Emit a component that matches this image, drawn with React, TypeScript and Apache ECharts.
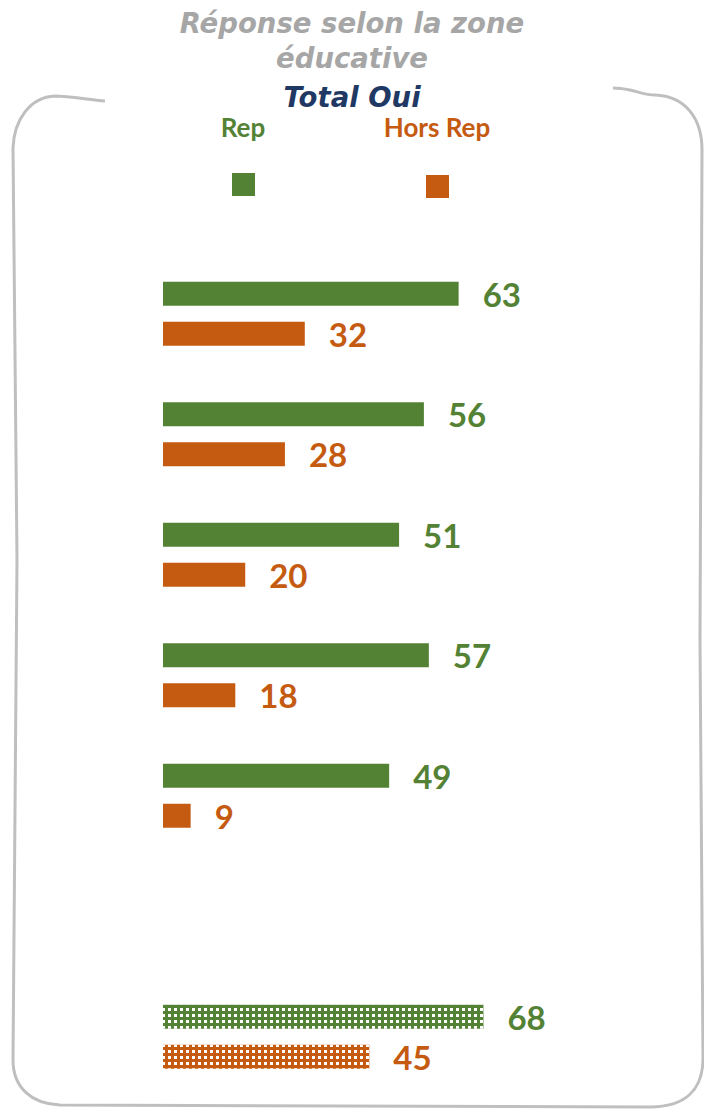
import React, { useEffect, useRef } from "react";
import * as echarts from "echarts";

const categories = ["Q1", "Q2", "Q3", "Q4", "Q5", "", "Total"];
const repValues: (number | null)[] = [63, 56, 51, 57, 49, null, 68];
const horsRepValues: (number | null)[] = [32, 28, 20, 18, 9, null, 45];
const seriesNames = ["Rep", "Hors Rep"];
const titleLines = ["Réponse selon la zone", "éducative"];
const subTitle = "Total Oui";

const GREEN = "#548235";
const ORANGE = "#C55A11";
const FONT = "Lato";
const TITLE_FONT = "DejaVu Sans";

const borderPath =
  "M105,101 C90,100 70,96 55,96 C30,97 14,120 13,148 L17,560 L13,1060 C13,1088 32,1104 60,1105 L650,1107 C685,1107 703,1090 703,1058 L700,640 L702,150 C702,118 685,96 655,95 C645,95 640,92 630,90 C625,89 618,88 613,88";

echarts.graphic.registerShape("border", echarts.graphic.extendPath(borderPath, {}) as any);

function makeData(values: (number | null)[], color: string) {
  return values.map((v, i) =>
    categories[i] === "Total"
      ? {
          value: v,
          itemStyle: {
            color,
            decal: {
              symbol: "rect",
              symbolSize: 1,
              color: "#ffffff",
              dashArrayX: [2.5, 2.5],
              dashArrayY: [2.5, 2.5],
            },
          },
        }
      : { value: v }
  );
}

export default function App() {
  const ref = useRef<HTMLDivElement>(null);
  useEffect(() => {
    document.body.style.margin = "0";
    const chart = echarts.init(ref.current!, null, { renderer: "svg" });
    const labelStyle = (color: string) => ({
      show: true,
      position: "right" as const,
      distance: 24,
      fontSize: 33,
      fontWeight: "bold" as const,
      fontFamily: FONT,
      color,
    });
    chart.setOption({
      animation: false,
      backgroundColor: "#ffffff",
      title: [
        {
          text: titleLines.join("\n"),
          left: "center",
          top: 5,
          padding: 0,
          textStyle: {
            color: "#A6A6A6",
            fontSize: 27.5,
            fontWeight: "bold",
            fontStyle: "italic",
            fontFamily: TITLE_FONT,
            lineHeight: 35,
          },
        },
        {
          text: subTitle,
          left: "center",
          top: 79,
          padding: 0,
          textStyle: {
            color: "#1F3864",
            fontSize: 27.5,
            fontWeight: "bold",
            fontStyle: "italic",
            fontFamily: TITLE_FONT,
            lineHeight: 36,
          },
        },
      ],
      grid: { left: 163, width: 380, top: 253.5, height: 843.5 },
      xAxis: {
        type: "value",
        min: 3.43,
        max: 80,
        show: false,
      },
      yAxis: {
        type: "category",
        data: categories,
        inverse: true,
        show: false,
      },
      series: [
        {
          name: seriesNames[0],
          type: "bar",
          barWidth: 24,
          barGap: "66.67%",
          itemStyle: { color: GREEN },
          label: labelStyle(GREEN),
          data: makeData(repValues, GREEN),
        },
        {
          name: seriesNames[1],
          type: "bar",
          barWidth: 24,
          barGap: "66.67%",
          itemStyle: { color: ORANGE },
          label: labelStyle(ORANGE),
          data: makeData(horsRepValues, ORANGE),
        },
      ],
      graphic: [
        {
          type: "border",
          x: 0,
          y: 0,
          silent: true,
          style: { fill: "none", stroke: "#BFBFBF", lineWidth: 3 },
        },
        {
          type: "text",
          x: 243,
          y: 140,
          style: {
            text: seriesNames[0],
            fill: GREEN,
            fontSize: 26,
            fontWeight: "bold",
            fontFamily: FONT,
            textAlign: "center",
            textVerticalAlign: "bottom",
          },
        },
        {
          type: "text",
          x: 437,
          y: 140,
          style: {
            text: seriesNames[1],
            fill: ORANGE,
            fontSize: 26,
            fontWeight: "bold",
            fontFamily: FONT,
            textAlign: "center",
            textVerticalAlign: "bottom",
          },
        },
        { type: "rect", shape: { x: 232, y: 173, width: 23, height: 23 }, style: { fill: GREEN } },
        { type: "rect", shape: { x: 426, y: 175, width: 23, height: 23 }, style: { fill: ORANGE } },
      ],
    });
    return () => chart.dispose();
  }, []);
  return <div ref={ref} style={{ width: 704, height: 1110 }} />;
}
